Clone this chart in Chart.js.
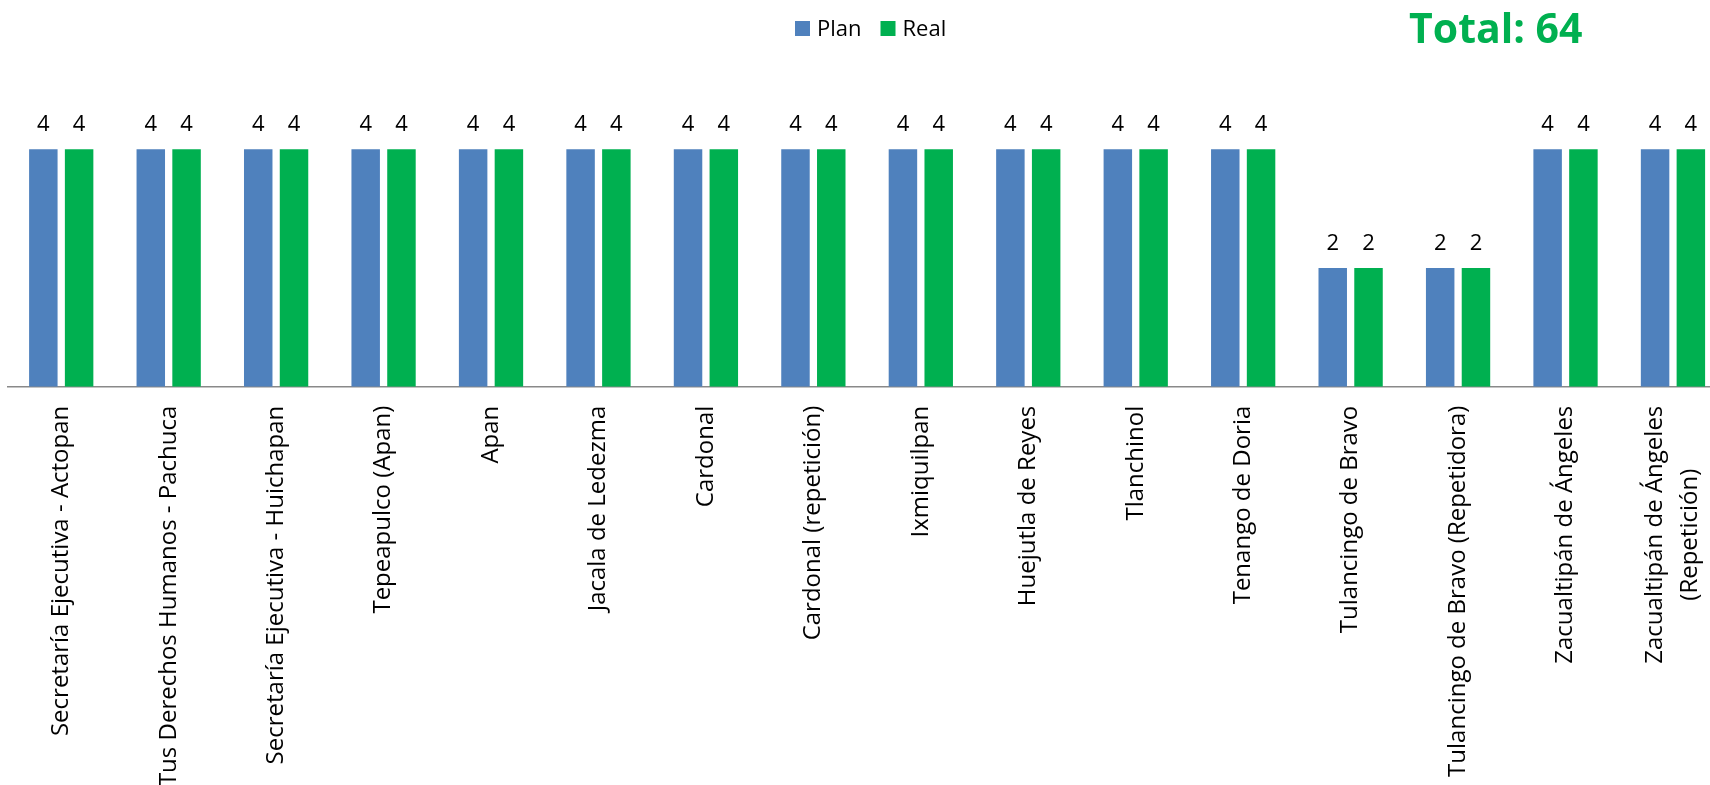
<!DOCTYPE html>
<html lang="es">
<head>
<meta charset="utf-8">
<title>Plan vs Real</title>
<script src="https://cdn.jsdelivr.net/npm/chart.js@4.4.1/dist/chart.umd.min.js"></script>
<style>
    html, body { margin: 0; padding: 0; background: #fff; overflow: hidden; }
    #wrap { position: absolute; left: 0; top: 0; width: 1730px; height: 785px; }
</style>
</head>
<body>
<div id="wrap"><canvas id="planChart"></canvas></div>
<script>
const categories = [
    'Secretaría Ejecutiva - Actopan',
    'Tus Derechos Humanos - Pachuca',
    'Secretaría Ejecutiva - Huichapan',
    'Tepeapulco (Apan)',
    'Apan',
    'Jacala de Ledezma',
    'Cardonal',
    'Cardonal (repetición)',
    'Ixmiquilpan',
    'Huejutla de Reyes',
    'Tlanchinol',
    'Tenango de Doria',
    'Tulancingo de Bravo',
    'Tulancingo de Bravo (Repetidora)',
    'Zacualtipán de Ángeles',
    ['Zacualtipán de Ángeles', '(Repetición)']
];
const planValues = [4, 4, 4, 4, 4, 4, 4, 4, 4, 4, 4, 4, 2, 2, 4, 4];
const realValues = [4, 4, 4, 4, 4, 4, 4, 4, 4, 4, 4, 4, 2, 2, 4, 4];
const totalLabel = 'Total: 64';

const FONT = "'Open Sans', sans-serif";

// values above each bar
const valueLabels = {
    id: 'valueLabels',
    afterDatasetsDraw(chart) {
        const ctx = chart.ctx;
        ctx.save();
        ctx.font = `22px ${FONT}`;
        ctx.fillStyle = '#000';
        ctx.textAlign = 'center';
        ctx.textBaseline = 'alphabetic';
        chart.data.datasets.forEach((ds, di) => {
            chart.getDatasetMeta(di).data.forEach((bar, i) => {
                ctx.fillText(ds.data[i], bar.x, bar.y - 18.5);
            });
        });
        ctx.restore();
    }
};

// vertical category labels, multi-line ones centred on each other
const verticalTicks = {
    id: 'verticalTicks',
    afterDraw(chart) {
        const ctx = chart.ctx;
        const xs = chart.scales.x;
        const lh = 35;
        ctx.save();
        ctx.font = `24px ${FONT}`;
        ctx.fillStyle = '#000';
        ctx.textAlign = 'center';
        ctx.textBaseline = 'middle';
        chart.data.labels.forEach((lab, i) => {
            const lines = Array.isArray(lab) ? lab : [lab];
            const maxW = Math.max(...lines.map(l => ctx.measureText(l).width));
            ctx.save();
            ctx.translate(xs.getPixelForValue(i), xs.top + 19);
            ctx.rotate(-Math.PI / 2);
            lines.forEach((l, j) => {
                ctx.fillText(l, -maxW / 2, (j - (lines.length - 1) / 2) * lh);
            });
            ctx.restore();
        });
        ctx.restore();
    }
};

// legend and total in the header
const header = {
    id: 'header',
    afterDraw(chart) {
        const ctx = chart.ctx;
        ctx.save();
        ctx.font = `22px ${FONT}`;
        ctx.textBaseline = 'alphabetic';
        ctx.textAlign = 'left';
        let x = 795;
        chart.data.datasets.forEach(ds => {
            ctx.fillStyle = ds.backgroundColor;
            ctx.fillRect(x, 21, 15, 15);
            ctx.fillStyle = '#000';
            ctx.fillText(ds.label, x + 22, 36);
            x += 22 + ctx.measureText(ds.label).width + 19;
        });
        ctx.font = `bold 41px ${FONT}`;
        ctx.fillStyle = '#00B050';
        ctx.fillText(totalLabel, 1409, 43);
        ctx.restore();
    }
};

new Chart(document.getElementById('planChart'), {
    type: 'bar',
    data: {
        labels: categories,
        datasets: [
            { label: 'Plan', data: planValues, backgroundColor: '#4F81BD' },
            { label: 'Real', data: realValues, backgroundColor: '#00B050' }
        ]
    },
    options: {
        responsive: true,
        maintainAspectRatio: false,
        animation: false,
        categoryPercentage: 0.666,
        barPercentage: 0.796,
        layout: { padding: { left: 7.5, right: 3.3, top: 90, bottom: 0 } },
        plugins: {
            legend: { display: false },
            tooltip: { enabled: false }
        },
        scales: {
            x: {
                grid: { display: true, drawOnChartArea: false, drawTicks: false },
                border: { display: true, color: '#898989', width: 1.5 },
                ticks: { display: false },
                afterFit: (scale) => { scale.height = 398.3; }
            },
            y: {
                display: false,
                min: 0,
                max: 5
            }
        }
    },
    plugins: [valueLabels, verticalTicks, header]
});
</script>
</body>
</html>
